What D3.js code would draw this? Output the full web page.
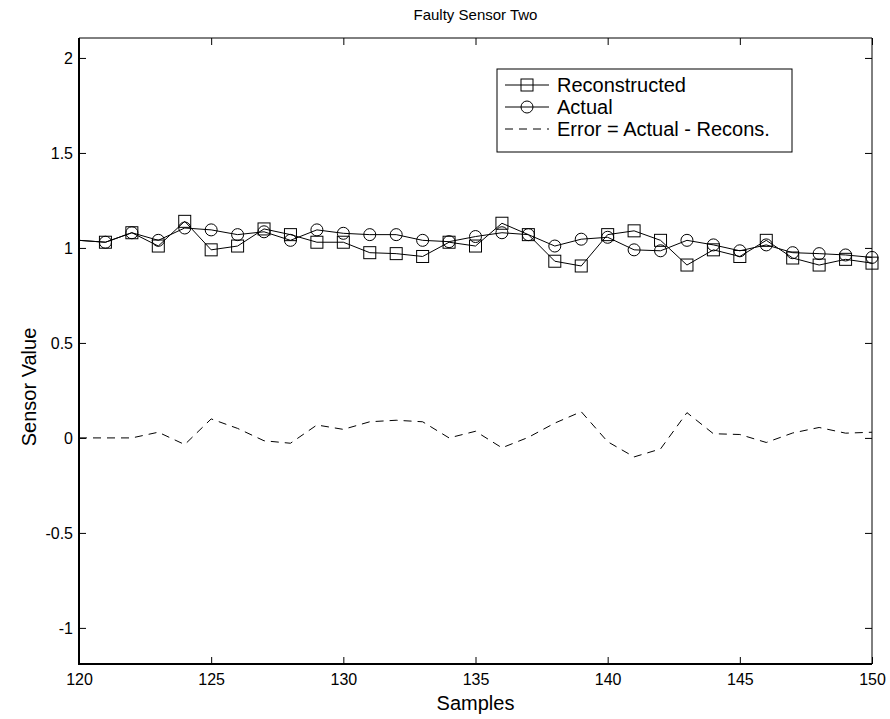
<!DOCTYPE html>
<html>
<head>
<meta charset="utf-8">
<script src="https://cdn.jsdelivr.net/npm/d3@7"></script>
<style>
  body { margin: 0; background: #fff; }
  svg text { font-family: "Liberation Sans", Arial, sans-serif; fill: #000; }
</style>
</head>
<body>
<svg id="chart"></svg>
<script>
// sample numbers 120..150
let samples = [120,121,122,123,124,125,126,127,128,129,130,131,132,133,134,135,136,137,138,139,140,141,142,143,144,145,146,147,148,149,150];
let reconstructed = [1.04,1.03,1.08,1.01,1.14,0.99,1.01,1.10,1.07,1.03,1.03,0.975,0.97,0.955,1.03,1.01,1.13,1.07,0.93,0.905,1.07,1.09,1.04,0.91,0.99,0.955,1.04,0.947,0.91,0.94,0.92];
let actual = [1.04,1.03,1.08,1.04,1.105,1.095,1.07,1.085,1.04,1.095,1.077,1.07,1.07,1.04,1.033,1.06,1.08,1.07,1.01,1.046,1.056,0.99,0.985,1.04,1.016,0.985,1.016,0.975,0.97,0.963,0.95];
let errorVals = [0,0,0,0.03,-0.035,0.10,0.05,-0.015,-0.028,0.068,0.045,0.085,0.093,0.085,0,0.035,-0.052,0.003,0.078,0.138,-0.02,-0.1,-0.058,0.133,0.022,0.018,-0.024,0.026,0.055,0.025,0.03];
let xTicks = [120,125,130,135,140,145,150];
let yTicks = [-1,-0.5,0,0.5,1,1.5,2];
let legendItems = ["Reconstructed", "Actual", "Error = Actual - Recons."];

let width = 890, height = 719;
let margin = {left: 79, right: 18, top: 38, bottom: 55};
let plotW = width - margin.left - margin.right;
let plotH = height - margin.top - margin.bottom;

let svg = d3.select("#chart")
    .attr("width", width)
    .attr("height", height);

let g = svg.append("g")
    .attr("transform", "translate(" + margin.left + "," + margin.top + ")");

let x = d3.scaleLinear().domain([120, 150]).range([0, plotW]);
let y = d3.scaleLinear().domain([-1.19, 2.105]).range([plotH, 0]);

// ticks on all four sides, pointing inward
let tickLen = 7;
g.append("g")
    .attr("transform", "translate(0," + plotH + ")")
    .call(d3.axisBottom(x).tickValues(xTicks).tickSizeInner(-tickLen).tickSizeOuter(0).tickPadding(10).tickFormat(d => String(d)))
    .call(a => a.select(".domain").remove())
    .attr("font-size", 16);
g.append("g")
    .call(d3.axisTop(x).tickValues(xTicks).tickSizeInner(-tickLen).tickSizeOuter(0).tickFormat(""))
    .call(a => a.select(".domain").remove());
g.append("g")
    .call(d3.axisLeft(y).tickValues(yTicks).tickSizeInner(-tickLen).tickSizeOuter(0).tickPadding(6).tickFormat(d => String(d)))
    .call(a => a.select(".domain").remove())
    .attr("font-size", 16);
g.append("g")
    .attr("transform", "translate(" + plotW + ",0)")
    .call(d3.axisRight(y).tickValues(yTicks).tickSizeInner(-tickLen).tickSizeOuter(0).tickFormat(""))
    .call(a => a.select(".domain").remove());

g.selectAll(".tick line").attr("stroke", "#000");
g.selectAll(".tick text").attr("fill", "#000");

// box: left/bottom thicker like the original
g.append("line").attr("x1", 0).attr("x2", plotW).attr("y1", 0).attr("y2", 0).attr("stroke", "#000");
g.append("line").attr("x1", plotW).attr("x2", plotW).attr("y1", 0).attr("y2", plotH).attr("stroke", "#000");
g.append("line").attr("x1", 0).attr("x2", 0).attr("y1", 0).attr("y2", plotH + 1).attr("stroke", "#000").attr("stroke-width", 2);
g.append("line").attr("x1", 0).attr("x2", plotW).attr("y1", plotH).attr("y2", plotH).attr("stroke", "#000").attr("stroke-width", 2);

let line = d3.line().x(d => x(d[0])).y(d => y(d[1]));

let reconData = samples.map((s, i) => [s, reconstructed[i]]);
let actualData = samples.map((s, i) => [s, actual[i]]);
let errorData = samples.map((s, i) => [s, errorVals[i]]);

g.append("path").datum(errorData)
    .attr("d", line).attr("fill", "none").attr("stroke", "#000")
    .attr("stroke-width", 1).attr("stroke-dasharray", "8,6");

g.append("path").datum(reconData)
    .attr("d", line).attr("fill", "none").attr("stroke", "#000").attr("stroke-width", 1);
g.append("path").datum(actualData)
    .attr("d", line).attr("fill", "none").attr("stroke", "#000").attr("stroke-width", 1);

let mk = 12;
g.selectAll(".sq")
    .data(reconData.slice(1))
    .enter().append("rect")
    .attr("class", "sq")
    .attr("x", d => x(d[0]) - mk/2)
    .attr("y", d => y(d[1]) - mk/2)
    .attr("width", mk).attr("height", mk)
    .attr("fill", "none").attr("stroke", "#000");

g.selectAll(".circ")
    .data(actualData.slice(1))
    .enter().append("circle")
    .attr("class", "circ")
    .attr("cx", d => x(d[0]))
    .attr("cy", d => y(d[1]))
    .attr("r", mk/2)
    .attr("fill", "none").attr("stroke", "#000");

// legend
let legend = svg.append("g").attr("transform", "translate(497,69)");
legend.append("rect").attr("width", 295).attr("height", 83)
    .attr("fill", "#fff").attr("stroke", "#000");
legendItems.forEach((t, i) => {
    let ly = 16 + i * 22;
    let l = legend.append("line").attr("x1", 8).attr("x2", 52).attr("y1", ly).attr("y2", ly)
        .attr("stroke", "#000");
    if (i == 2) l.attr("stroke-dasharray", "8,6");
    if (i == 0) legend.append("rect").attr("x", 30 - mk/2).attr("y", ly - mk/2).attr("width", mk).attr("height", mk).attr("fill", "none").attr("stroke", "#000");
    if (i == 1) legend.append("circle").attr("cx", 30).attr("cy", ly).attr("r", mk/2).attr("fill", "none").attr("stroke", "#000");
    legend.append("text").attr("x", 60).attr("y", ly + 7).attr("font-size", 20).text(t);
});

// title and axis labels
svg.append("text").attr("x", margin.left + plotW/2).attr("y", 20)
    .attr("text-anchor", "middle").attr("font-size", 15).text("Faulty Sensor Two");
svg.append("text").attr("x", margin.left + plotW/2).attr("y", 710)
    .attr("text-anchor", "middle").attr("font-size", 20).text("Samples");
svg.append("text").attr("transform", "translate(36,387) rotate(-90)")
    .attr("text-anchor", "middle").attr("font-size", 20).text("Sensor Value");
</script>
</body>
</html>
